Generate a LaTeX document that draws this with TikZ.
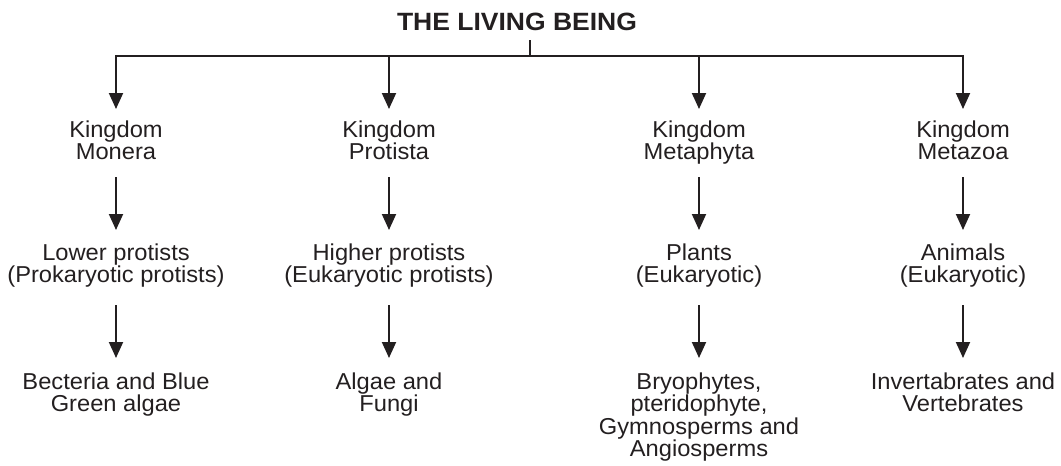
\documentclass[tikz,border=0pt]{standalone}
\usepackage{fontspec}
\setmainfont{Liberation Sans}[FakeStretch=1.03]
\newfontfamily\titlefont{Liberation Sans}[FakeStretch=1.06]
\usetikzlibrary{arrows.meta}
\definecolor{ink}{RGB}{35,31,32}
\newcommand\topst{\rule{0pt}{17pt}}
\newcommand\botst{\rule[-7pt]{0pt}{7pt}}
\begin{document}
\begin{tikzpicture}[x=1pt,y=-1pt,
  line/.style={draw=ink,line width=1.9pt},
  arr/.style={line,-{Triangle[length=16pt,width=14pt]}},
  lbl/.style={inner sep=0pt,outer sep=0pt,anchor=north,align=center,text=ink,
    font=\fontsize{23}{22.4}\selectfont},
  ttl/.style={inner sep=0pt,outer sep=0pt,anchor=base,text=ink,
    font=\titlefont\bfseries\fontsize{25}{28}\selectfont}]
\useasboundingbox (0,0) rectangle (1061,466);

\node[ttl] (title) at (517,30) {THE LIVING BEING};
\coordinate (j) at (530,56);

% level 1
\node[lbl] (k1) at (116,120.5) {\topst Kingdom\\Monera\botst};
\node[lbl] (k2) at (389,120.5) {\topst Kingdom\\Protista\botst};
\node[lbl] (k3) at (699,120.5) {\topst Kingdom\\Metaphyta\botst};
\node[lbl] (k4) at (963,120.5) {\topst Kingdom\\Metazoa\botst};

% level 2
\node[lbl] (l1) at (116,243) {\topst Lower protists\\(Prokaryotic protists)\botst};
\node[lbl] (l2) at (389,243) {\topst Higher protists\\(Eukaryotic protists)\botst};
\node[lbl] (l3) at (699,243) {\topst Plants\\(Eukaryotic)\botst};
\node[lbl] (l4) at (963,243) {\topst Animals\\(Eukaryotic)\botst};

% level 3
\node[lbl] (m1) at (116,372.5) {\topst Becteria and Blue\\Green algae\botst};
\node[lbl] (m2) at (389,372.5) {\topst Algae and\\Fungi\botst};
\node[lbl] (m3) at (699,372.5) {\topst Bryophytes,\\pteridophyte,\\Gymnosperms and\\Angiosperms\botst};
\node[lbl] (m4) at (963,372.5) {\topst Invertabrates and\\Vertebrates\botst};

% trunk and bar
\draw[line] ([yshift=-10pt]title.south -| j) -- (j);
\draw[arr,shorten >=11.5pt] (j) -| (k1.north);
\draw[arr,shorten >=11.5pt] (j) -| (k4.north);
\draw[arr,shorten >=11.5pt] (k2.north |- j) -- (k2.north);
\draw[arr,shorten >=11.5pt] (k3.north |- j) -- (k3.north);

% level 1 -> 2
\foreach \i in {1,2,3,4}{
  \draw[arr,shorten <=10.5pt,shorten >=13pt] (k\i.south) -- (l\i.north);
  \draw[arr,shorten <=16pt,shorten >=14.5pt] (l\i.south) -- (m\i.north);
}
\end{tikzpicture}
\end{document}
